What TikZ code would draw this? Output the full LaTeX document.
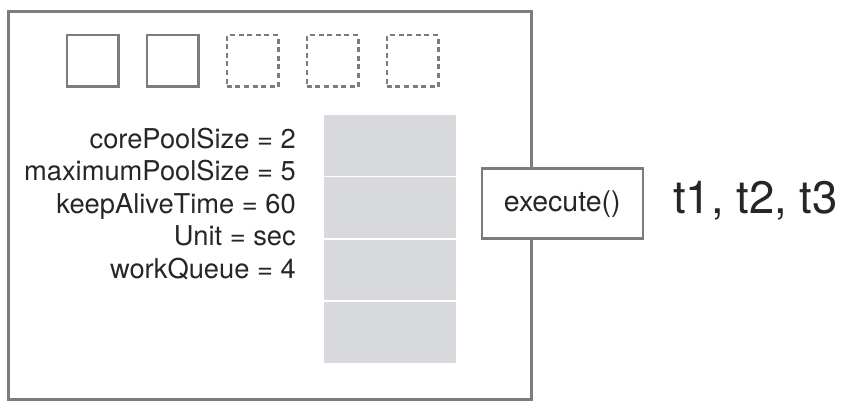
\documentclass[tikz,border=0pt]{standalone}
\usepackage{fontspec}
\setmainfont{TeX Gyre Heros}
\definecolor{frame}{HTML}{7A7D80}
\definecolor{cell}{HTML}{D8D9DC}
\definecolor{ink}{HTML}{262626}
\begin{document}
\begin{tikzpicture}[x=1pt,y=-1pt,
  worker/.style={draw=frame,line width=2.5pt,minimum width=51.5pt,minimum height=51.5pt,inner sep=0pt},
  spare/.style={worker,dash pattern=on 5pt off 3.6pt},
  qcell/.style={fill=cell,minimum width=132pt,minimum height=60.7pt,inner sep=0pt,anchor=north west},
  param/.style={anchor=base east,inner sep=0pt,text=ink,font=\fontsize{27.3}{30}\selectfont},
]
\useasboundingbox (0,0) rectangle (861,411);
% outer pool frame
\node[draw=frame,line width=3pt,minimum width=522.5pt,minimum height=388pt,inner sep=0pt,anchor=north west] (pool) at (7,10) {};
% workers
\node[worker] (w1) at (92.5,61) {};
\node[worker] (w2) at (172.5,61) {};
\node[spare] (w3) at (252.5,61) {};
\node[spare] (w4) at (332.5,61) {};
\node[spare] (w5) at (412.5,61) {};
% parameters
\node[param] (p1) at (296,148.3) {corePoolSize = 2};
\node[param] (p2) at (296,180.8) {maximumPoolSize = 5};
\node[param] (p3) at (296,213.3) {keepAliveTime = 60};
\node[param] (p4) at (296,245.8) {Unit = sec};
\node[param] (p5) at (296,278.3) {workQueue = 4};
% queue
\node[qcell] (q1) at (324,115) {};
\node[qcell] (q2) at (324,177) {};
\node[qcell] (q3) at (324,239.5) {};
\node[qcell] (q4) at (324,302) {};
% execute
\node[draw=frame,fill=white,line width=2.5pt,minimum width=161pt,minimum height=70pt,inner sep=0pt,text=ink,font=\fontsize{28.5}{30}\selectfont] (exec) at (562.25,203.75) {execute()};
\node[anchor=base west,inner sep=0pt,text=ink,font=\fontsize{45.5}{48}\selectfont] (tasks) at (673,213.3) {t1, t2, t3};
\end{tikzpicture}
\end{document}
